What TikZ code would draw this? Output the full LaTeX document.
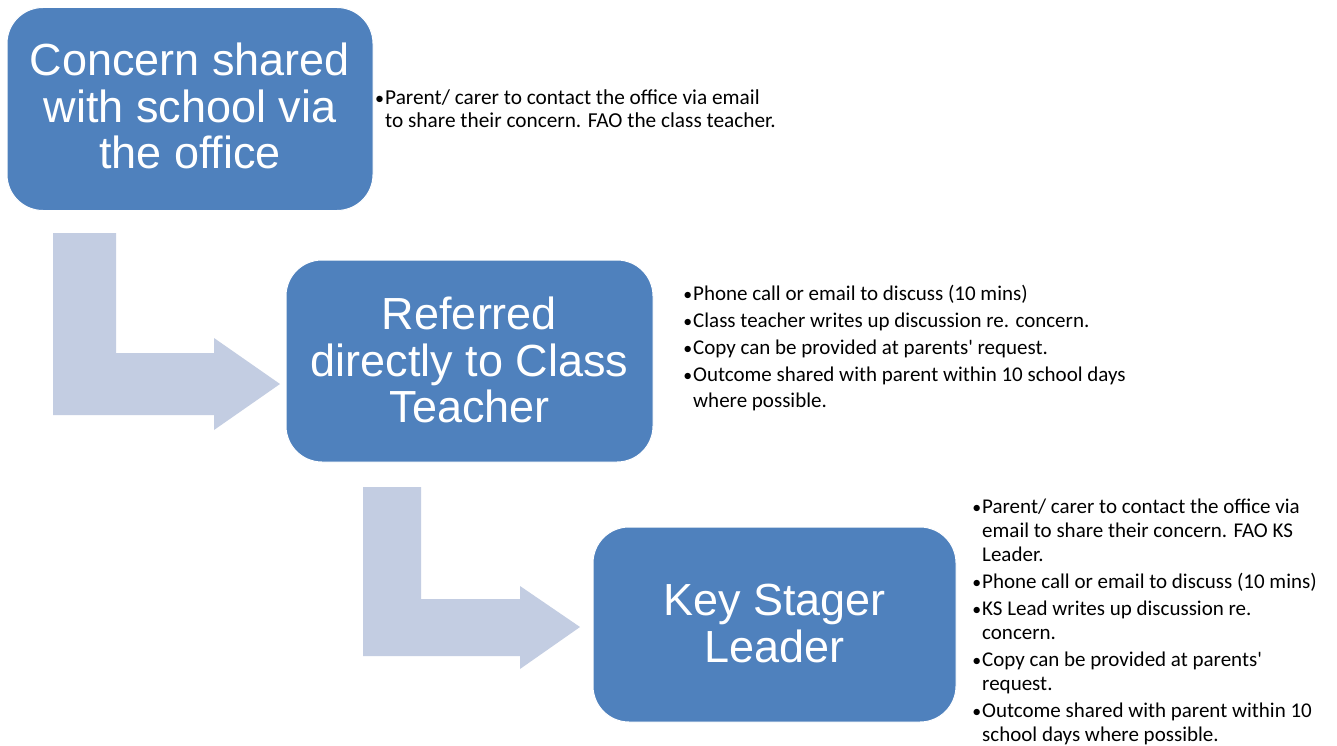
\documentclass[tikz,border=0pt]{standalone}
\usepackage{fontspec}
\setmainfont{Carlito}[Ligatures=TeXOff]
\newfontfamily\arialf{Liberation Sans}
\definecolor{boxblue}{HTML}{4F81BD}
\definecolor{arrowgray}{HTML}{C3CDE2}
\newcommand{\bl}{\makebox[11pt][c]{\scalebox{0.85}{•}}}
\newcommand{\ind}{\hspace*{11pt}}
\newcommand{\lift}[2]{\raisebox{#1}[\height][\depth]{\begin{tabular}{@{}c@{}}#2\end{tabular}}}
\begin{document}
\begin{tikzpicture}[x=1pt,y=-1pt,
  stage/.style={rounded corners=36pt, fill=boxblue, draw=white, line width=1pt,
    text=white, font=\arialf\fontsize{45}{46.5}\selectfont, inner sep=0pt},
  bendarrow/.style={fill=arrowgray, draw=none},
  notes/.style={anchor=base west, inner sep=0pt, align=left, text=black}]
\useasboundingbox[fill=white] (0,0) rectangle (1337,746);

% bent block arrows
\path[bendarrow] (53,233) -- (116,233) -- (116,353) -- (214,353) -- (214,338)
  -- (280,384) -- (214,430) -- (214,415) -- (53,415) -- cycle;
\path[bendarrow] (363,487) -- (421,487) -- (421,599) -- (520,599) -- (520,586)
  -- (580,627) -- (520,669) -- (520,656) -- (363,656) -- cycle;

% stages
\node[stage, minimum width=366pt, minimum height=203pt] (b1) at (190,109)
  {\lift{-4pt}{Concern shared\\with school via\\the office}};
\node[stage, minimum width=367pt, minimum height=202pt] (b2) at (469.5,361)
  {\lift{-6pt}{Referred\\directly to Class\\Teacher}};
\node[stage, minimum width=363pt, minimum height=195pt] (b3) at (774.5,624.5)
  {\lift{-5pt}{Key Stager\\Leader}};

% notes (anchored at the baseline of their last line)
\node[notes, font=\fontsize{21.3}{23}\selectfont] (n1) at (374,128)
  {\bl Parent/ carer to contact the office via email\\
   \ind to share their concern. FAO the class teacher.};
\node[notes, font=\fontsize{21}{27}\selectfont] (n2) at (682,407)
  {\bl Phone call or email to discuss (10 mins)\\
   \bl Class teacher writes up discussion re. concern.\\
   \bl Copy can be provided at parents' request.\\
   \bl Outcome shared with parent within 10 school days\\[-1pt]
   \ind where possible.};
\node[notes, font=\fontsize{21}{24}\selectfont] (n3) at (971,741)
  {\bl Parent/ carer to contact the office via\\
   \ind email to share their concern. FAO KS\\
   \ind Leader.\\[3pt]
   \bl Phone call or email to discuss (10 mins)\\[3pt]
   \bl KS Lead writes up discussion re.\\
   \ind concern.\\[3pt]
   \bl Copy can be provided at parents'\\
   \ind request.\\[3pt]
   \bl Outcome shared with parent within 10\\
   \ind school days where possible.};
\end{tikzpicture}
\end{document}
